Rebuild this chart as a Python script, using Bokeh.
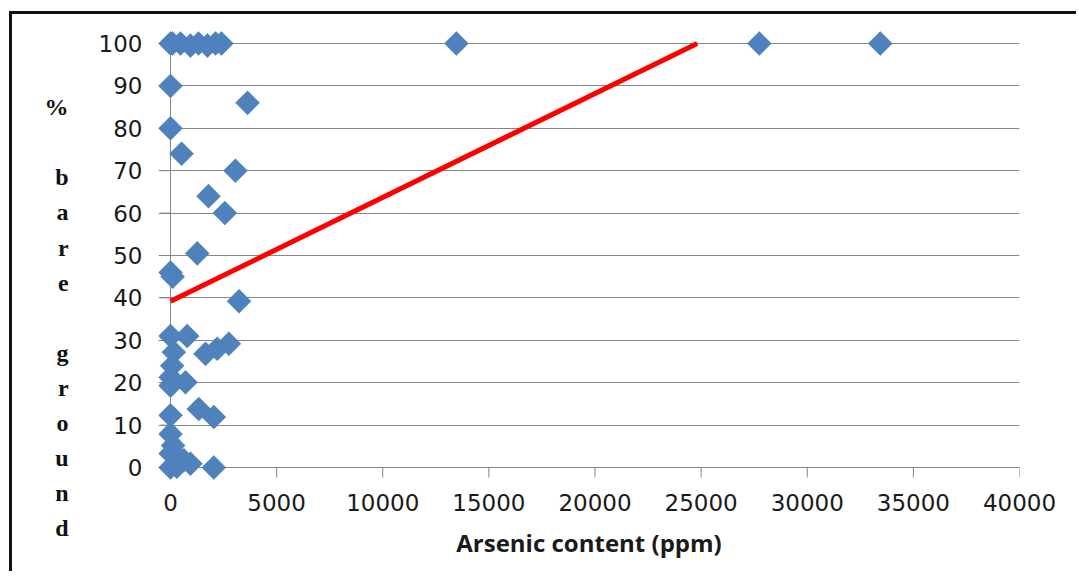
from bokeh.plotting import figure
from bokeh.layouts import column
from bokeh.models import Range1d, FixedTicker, ColumnDataSource
from bokeh.embed import file_html
from bokeh.resources import INLINE

# ---- data ----
arsenic_ppm = [90, 470, 940, 1320, 1740, 2120, 2400, 0, 13470, 27740, 33440,
               0, 3630, 0, 520, 3060, 1790, 2560, 1260, 0, 100, 3230,
               0, 786, 1650, 2200, 2750, 157, 80, 0, 706, 0,
               0, 1330, 2040, 0, 120, 140, 0, 630, 940, 0, 300, 2040]
bare_ground_pct = [100, 100, 99.5, 100, 99.5, 100, 100, 100, 100, 100, 100,
                   90, 86, 80, 74, 70, 64, 60, 50.5, 46, 45, 39.2,
                   31, 31, 26.8, 28, 29.2, 27.2, 24, 21.3, 20.1, 19.3,
                   12.3, 13.8, 11.9, 7.9, 5.2, 3.6, 3.3, 1.7, 0.9, 0, 0.2, 0]

trend_intercept = 39.2
trend_slope = 0.00245

x_ticks = [0, 5000, 10000, 15000, 20000, 25000, 30000, 35000, 40000]
y_ticks = [0, 10, 20, 30, 40, 50, 60, 70, 80, 90, 100]
x_title = "Arsenic content (ppm)"
y_label_lines = ["%", " ", "b", "a", "r", "e", " ", "g", "r", "o", "u", "n", "d"]

GRID = "#868686"
BLUE = "#4F81BD"

# ---- geometry (pixels) ----
W, H = 1067, 560
AX_W, AX_H = 849, 424          # pixel length of 0..40000 and 0..100
PADX = 12                       # room so edge markers are not clipped
PADY_TOP, PADY_BOT = 29, 13
TICK = 10
x_per_px = (x_ticks[-1] - x_ticks[0]) / AX_W
y_per_px = (y_ticks[-1] - y_ticks[0]) / AX_H

p = figure(width=W, height=H, output_backend="svg", toolbar_location=None,
           x_range=Range1d(x_ticks[0] - PADX * x_per_px, x_ticks[-1]),
           y_range=Range1d(y_ticks[0] - PADY_BOT * y_per_px, y_ticks[-1] + PADY_TOP * y_per_px),
           min_border_left=146, min_border_right=W - 146 - PADX - AX_W,
           min_border_top=0, min_border_bottom=H - 29 - AX_H - PADY_BOT)
p.outline_line_color = None
p.background_fill_color = "white"
p.border_fill_color = "white"

p.xgrid.visible = False
p.ygrid.grid_line_color = GRID
p.ygrid.grid_line_width = 1
p.ygrid.ticker = FixedTicker(ticks=y_ticks)

for ax in (p.xaxis, p.yaxis):
    ax.axis_line_color = None
    ax.major_tick_line_color = None
    ax.minor_tick_line_color = None
    ax.major_tick_in = 0
    ax.major_tick_out = 0
    ax.major_label_text_font = "DejaVu Sans"
    ax.major_label_text_font_size = "23px"
    ax.major_label_text_color = "#1a1a1a"

p.xaxis.ticker = FixedTicker(ticks=x_ticks)
p.xaxis.major_label_overrides = {t: str(t) for t in x_ticks}
p.xaxis.major_label_standoff = 13
p.xaxis.axis_label = x_title
p.xaxis.axis_label_text_font = "Open Sans"
p.xaxis.axis_label_text_font_style = "bold"
p.xaxis.axis_label_text_font_size = "24px"
p.xaxis.axis_label_text_color = "#1a1a1a"
p.xaxis.axis_label_standoff = 12

p.yaxis.ticker = FixedTicker(ticks=y_ticks)
p.yaxis.major_label_overrides = {t: str(t) for t in y_ticks}
p.yaxis.major_label_standoff = 16
p.yaxis.axis_label = "\n".join([" "] * 4 + y_label_lines)
p.yaxis.axis_label_orientation = "horizontal"
p.yaxis.axis_label_text_font = "Liberation Serif"
p.yaxis.axis_label_text_font_style = "bold"
p.yaxis.axis_label_text_font_size = "24px"
p.yaxis.axis_label_text_line_height = 1.347
p.yaxis.axis_label_text_color = "#111111"
p.yaxis.axis_label_standoff = 27

# axis lines and tick marks at the data origin
ax_src = ColumnDataSource(dict(
    x0=[x_ticks[0], x_ticks[0]] + x_ticks + [x_ticks[0]] * len(y_ticks),
    y0=[y_ticks[0], y_ticks[0]] + [y_ticks[0]] * len(x_ticks) + y_ticks,
    x1=[x_ticks[-1], x_ticks[0]] + x_ticks + [x_ticks[0] - TICK * x_per_px] * len(y_ticks),
    y1=[y_ticks[0], y_ticks[-1]] + [y_ticks[0] - TICK * y_per_px] * len(x_ticks) + y_ticks,
))
p.segment("x0", "y0", "x1", "y1", source=ax_src, line_color=GRID, line_width=1)

# trend line
x_end = (100 - trend_intercept) / trend_slope
trend = ColumnDataSource(dict(x=[0, x_end],
                              y=[trend_intercept, trend_intercept + trend_slope * x_end]))
p.line("x", "y", source=trend, line_color="#FF0000", line_width=5)

# scatter
src = ColumnDataSource(dict(x=arsenic_ppm, y=bare_ground_pct))
p.scatter("x", "y", source=src, marker="square", size=17, angle=0.785398,
          fill_color=BLUE, line_color=BLUE, line_width=0.5)

layout = column(p)
layout.margin = (14, 0, 0, 12)
layout.styles = {"box-shadow": "-3px -3px 0px 0px #111111", "background-color": "white"}

open("out.html", "w").write(file_html(layout, INLINE))
